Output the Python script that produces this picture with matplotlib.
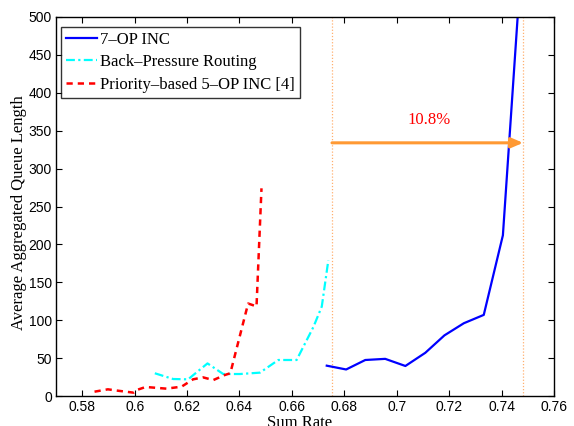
import matplotlib
matplotlib.use("Agg")
import matplotlib.pyplot as plt

# 7-OP INC
rate_7op = [0.6733, 0.6807, 0.688, 0.6956, 0.7033, 0.7109, 0.7182, 0.7256, 0.7332, 0.7405, 0.7475]
queue_7op = [40, 35, 47.5, 49, 39.6, 57, 80, 96, 107, 212, 570]

# Back-Pressure Routing
rate_bp = [0.6077, 0.6147, 0.6204, 0.6278, 0.6338, 0.6402, 0.6478, 0.6548, 0.6618, 0.6682, 0.6714, 0.6739]
queue_bp = [30, 22.4, 22, 43, 29, 29, 30.8, 47.5, 47.5, 91, 118, 179]

# Priority-based 5-OP INC [4]
rate_pr = [0.5847, 0.5898, 0.5936, 0.5996, 0.6009, 0.6042, 0.6121, 0.6179, 0.6223, 0.6261,
           0.630, 0.6344, 0.6365, 0.6433, 0.645, 0.6465, 0.6484]
queue_pr = [5.7, 8.8, 7, 4.4, 8, 11.9, 9.7, 12.3, 22, 24.6, 21, 27.7, 30, 122, 120, 118, 274]

# Throughput gain marker
gain_start = 0.6753
gain_end = 0.7482
gain_level = 334
gain_label = "10.8%"

x_ticks = [0.58, 0.6, 0.62, 0.64, 0.66, 0.68, 0.7, 0.72, 0.74, 0.76]
x_tick_labels = ["0.58", "0.6", "0.62", "0.64", "0.66", "0.68", "0.7", "0.72", "0.74", "0.76"]
y_ticks = [0, 50, 100, 150, 200, 250, 300, 350, 400, 450, 500]

serif = ["Liberation Serif", "DejaVu Serif"]
sans = ["Liberation Sans", "DejaVu Sans"]

fig = plt.figure(figsize=(5.74, 4.26), dpi=100)
ax = fig.add_axes([56 / 574, 30 / 426, 498 / 574, 379 / 426])

ax.plot(rate_7op, queue_7op, color="#0000ff", lw=1.6, label="7\u2013OP INC")
ax.plot(rate_bp, queue_bp, color="#00ffff", lw=1.6, linestyle=(0, (4, 1.5, 1, 1.5)),
        label="Back\u2013Pressure Routing")
ax.plot(rate_pr, queue_pr, color="#ff0000", lw=1.8, linestyle=(0, (2.5, 2)),
        label="Priority\u2013based 5\u2013OP INC [4]")

for xv in (gain_start, gain_end):
    ax.axvline(xv, color="#ffb070", lw=0.9, linestyle=(0, (1, 1.5)), zorder=1)

ax.annotate("", xy=(gain_end, gain_level), xytext=(gain_start, gain_level),
            arrowprops=dict(arrowstyle="-|>,head_length=0.7,head_width=0.3",
                            color="#ff9933", lw=2.2, shrinkA=0, shrinkB=0))
ax.text(0.7122, 364, gain_label, color="#ff0000", fontsize=12, family=serif,
        ha="center", va="center")

ax.set_xlim(0.57, 0.76)
ax.set_ylim(0, 500)
ax.set_xticks(x_ticks)
ax.set_xticklabels(x_tick_labels, family=sans, fontsize=10)
ax.set_yticks(y_ticks)
ax.set_yticklabels([str(v) for v in y_ticks], family=sans, fontsize=10)
ax.tick_params(direction="in", top=True, right=True, length=4, width=0.8, pad=3)
for sp in ax.spines.values():
    sp.set_linewidth(1.0)

ax.set_xlabel("Sum Rate", family=serif, fontsize=12)
ax.set_ylabel("Average Aggregated Queue Length", family=serif, fontsize=12)
ax.xaxis.set_label_coords(0.49, -0.05)
ax.yaxis.set_label_coords(-0.058, 0.483)

leg = ax.legend(loc="upper left", bbox_to_anchor=(5 / 498, 1 - 10 / 379),
                prop={"family": serif, "size": 12},
                frameon=True, fancybox=False, edgecolor="black",
                handlelength=1.85, handletextpad=0.2, borderpad=0.3,
                labelspacing=0.38, borderaxespad=0.0)
leg.get_frame().set_linewidth(1.0)

fig.savefig("out.png", dpi=100)
